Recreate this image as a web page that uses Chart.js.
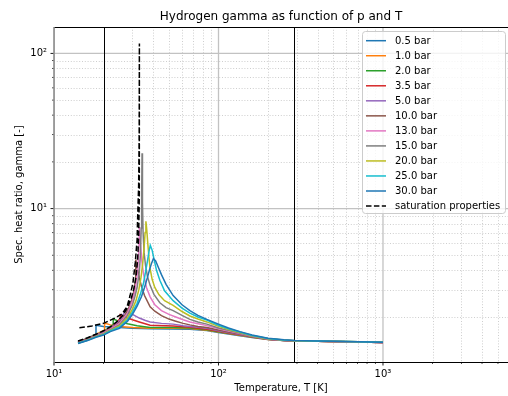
<!DOCTYPE html>
<html>
<head>
<meta charset="utf-8">
<script src="https://cdn.jsdelivr.net/npm/chart.js@4"></script>
<style>
  html, body { margin: 0; padding: 0; background: #ffffff; }
  canvas { display: block; }
</style>
</head>
<body>
<canvas id="chart" width="508" height="396"></canvas>
<script>
// ---- Series: temperature [K] and specific heat ratio per pressure ----
const seriesLabels = ['0.5 bar', '1.0 bar', '2.0 bar', '3.5 bar', '5.0 bar', '10.0 bar',
                      '13.0 bar', '15.0 bar', '20.0 bar', '25.0 bar', '30.0 bar'];
const seriesColors = ['#1f77b4', '#ff7f0e', '#2ca02c', '#d62728', '#9467bd', '#8c564b',
                      '#e377c2', '#7f7f7f', '#bcbd22', '#17becf', '#1f77b4'];

const T_0p5 = [14, 15, 16, 17, 18, 18, 20, 25, 30, 38.4, 53, 67, 85, 100, 115, 135, 160, 200, 250, 290, 400, 600, 1000];
const g_0p5 = [1.395, 1.425, 1.46, 1.505, 1.55, 1.77, 1.74, 1.71, 1.695, 1.68, 1.675, 1.67, 1.635, 1.59, 1.555, 1.515, 1.475, 1.432, 1.409, 1.402, 1.396, 1.388, 1.372];

const T_1p0 = [14, 15, 16, 17, 18, 19, 20.3, 20.3, 22, 25, 30, 38.4, 53, 67, 85, 100, 115, 135, 160, 200, 250, 290, 400, 600, 1000];
const g_1p0 = [1.39, 1.42, 1.455, 1.50, 1.545, 1.59, 1.645, 1.83, 1.78, 1.74, 1.71, 1.69, 1.69, 1.685, 1.645, 1.60, 1.565, 1.525, 1.48, 1.434, 1.41, 1.403, 1.396, 1.388, 1.372];

const T_2p0 = [14, 16, 18, 20, 21.5, 22.9, 22.9, 25, 28, 32, 38.4, 53, 67, 85, 100, 115, 135, 160, 200, 250, 290, 400, 600, 1000];
const g_2p0 = [1.385, 1.45, 1.535, 1.615, 1.70, 1.79, 1.94, 1.87, 1.81, 1.76, 1.71, 1.71, 1.70, 1.655, 1.61, 1.57, 1.535, 1.485, 1.436, 1.411, 1.403, 1.397, 1.388, 1.372];

const T_3p5 = [14, 16, 18, 20, 22, 23.8, 25.3, 25.3, 27, 30, 33, 38.4, 53, 67, 85, 100, 115, 135, 160, 200, 250, 290, 400, 600, 1000];
const g_3p5 = [1.38, 1.445, 1.53, 1.61, 1.70, 1.82, 1.97, 2.07, 2.0, 1.92, 1.86, 1.77, 1.75, 1.72, 1.67, 1.62, 1.58, 1.54, 1.49, 1.438, 1.412, 1.404, 1.397, 1.388, 1.372];

const T_5p0 = [14, 16, 18, 20, 22, 24, 25.6, 26.9, 26.9, 28, 30, 33, 36, 38.4, 45, 53, 61, 75, 85, 100, 115, 135, 160, 200, 250, 290, 400, 600, 1000];
const g_5p0 = [1.375, 1.44, 1.525, 1.60, 1.69, 1.81, 1.95, 2.15, 2.22, 2.17, 2.08, 1.97, 1.90, 1.86, 1.82, 1.80, 1.76, 1.72, 1.69, 1.63, 1.59, 1.545, 1.495, 1.44, 1.413, 1.404, 1.397, 1.388, 1.372];

const T_10 = [14, 16, 18, 20, 22, 24, 26, 28, 29.5, 30.6, 31.4, 31.4, 32, 33, 34, 35.5, 38.4, 41, 45, 50, 55, 61, 67, 75, 85, 100, 115, 135, 160, 200, 250, 290, 400, 600, 1000];
const g_10 = [1.37, 1.435, 1.515, 1.59, 1.68, 1.78, 1.93, 2.2, 2.5, 2.95, 3.55, 4.7, 4.2, 3.6, 3.15, 2.75, 2.33, 2.18, 2.04, 1.94, 1.88, 1.82, 1.78, 1.74, 1.71, 1.65, 1.60, 1.555, 1.50, 1.442, 1.415, 1.405, 1.397, 1.388, 1.372];

const T_13 = [14, 16, 18, 20, 22, 25, 28, 30, 31, 31.8, 32.4, 32.8, 33.1, 33.5, 34.2, 35, 36.5, 38.4, 41, 45, 50, 55, 61, 67, 75, 85, 100, 115, 135, 160, 200, 250, 290, 400, 600, 1000];
const g_13 = [1.365, 1.43, 1.51, 1.58, 1.67, 1.82, 2.12, 2.55, 2.95, 3.5, 4.3, 5.5, 7.6, 6.0, 4.6, 3.8, 3.1, 2.7, 2.4, 2.2, 2.08, 2.0, 1.92, 1.86, 1.81, 1.76, 1.68, 1.625, 1.565, 1.505, 1.445, 1.417, 1.406, 1.398, 1.388, 1.372];

const T_15 = [14, 16, 18, 20, 22, 25, 28, 30, 31, 32, 33, 33.5, 33.9, 34.1, 34.3, 34.5, 34.8, 35.3, 36, 37, 38.4, 40.5, 44, 48, 53, 60, 67, 75, 85, 100, 115, 135, 160, 200, 250, 290, 400, 600, 1000];
const g_15 = [1.362, 1.425, 1.505, 1.56, 1.65, 1.78, 2.05, 2.4, 2.7, 3.1, 3.9, 5.0, 7.5, 12, 22.7, 11, 7, 5.2, 4.3, 3.65, 3.2, 2.8, 2.47, 2.3, 2.2, 2.05, 1.93, 1.86, 1.80, 1.70, 1.64, 1.575, 1.51, 1.447, 1.418, 1.407, 1.398, 1.389, 1.373];

const T_20 = [14, 16, 18, 20, 22, 25, 28, 30, 31.5, 32.8, 33.8, 34.6, 35.3, 35.8, 36.2, 36.6, 37.2, 37.8, 38.4, 39.5, 41, 43.5, 47, 53, 60, 67, 75, 85, 100, 115, 135, 160, 200, 250, 290, 400, 600, 1000];
const g_20 = [1.358, 1.42, 1.495, 1.55, 1.64, 1.75, 1.98, 2.25, 2.55, 3.0, 3.6, 4.4, 5.6, 7.0, 8.28, 7.4, 5.9, 4.8, 4.1, 3.5, 3.1, 2.78, 2.55, 2.38, 2.17, 2.03, 1.94, 1.86, 1.74, 1.66, 1.59, 1.515, 1.45, 1.42, 1.408, 1.398, 1.389, 1.373];

const T_25 = [14, 16, 18, 20, 22, 25, 28, 30, 32, 33.5, 35, 36, 37, 37.8, 38.5, 39.5, 40.5, 42, 44, 47, 53, 60, 67, 75, 85, 100, 115, 135, 160, 200, 250, 290, 400, 600, 1000];
const g_25 = [1.355, 1.415, 1.49, 1.54, 1.625, 1.72, 1.92, 2.15, 2.45, 2.8, 3.3, 3.9, 4.6, 5.3, 5.79, 5.4, 4.75, 4.0, 3.45, 2.95, 2.55, 2.28, 2.12, 2.0, 1.91, 1.77, 1.68, 1.60, 1.52, 1.455, 1.422, 1.409, 1.399, 1.389, 1.373];

const T_30 = [14, 16, 18, 20, 22, 25, 28, 30, 32, 34, 35.5, 37, 38, 39.2, 40.2, 41.5, 43, 45, 48, 53, 60, 67, 75, 85, 100, 115, 135, 160, 200, 250, 290, 400, 600, 1000];
const g_30 = [1.35, 1.41, 1.48, 1.53, 1.61, 1.69, 1.88, 2.08, 2.35, 2.7, 3.1, 3.6, 4.0, 4.45, 4.76, 4.6, 4.2, 3.75, 3.25, 2.75, 2.4, 2.2, 2.05, 1.93, 1.80, 1.70, 1.61, 1.53, 1.46, 1.425, 1.41, 1.399, 1.389, 1.373];

// Saturation properties: liquid branch up to the critical point, then vapour branch back down
const T_sat = [14, 16, 18, 20, 22, 24, 26, 28, 29.5, 30.5, 31.5, 32.2, 32.7, 33.0, 33.05, 32.95, 32.7, 32.5, 32.2, 32.0, 31.2, 30.2, 29, 27.8, 26, 23.5, 20, 17, 14];
const g_sat = [1.40, 1.47, 1.55, 1.63, 1.73, 1.86, 2.03, 2.3, 2.65, 3.0, 3.6, 4.6, 6.5, 12, 116, 30, 14, 11.4, 8.3, 6.3, 4.5, 3.32, 2.75, 2.33, 2.1, 1.97, 1.82, 1.75, 1.70];

const seriesT = [T_0p5, T_1p0, T_2p0, T_3p5, T_5p0, T_10, T_13, T_15, T_20, T_25, T_30];
const seriesG = [g_0p5, g_1p0, g_2p0, g_3p5, g_5p0, g_10, g_13, g_15, g_20, g_25, g_30];

// Reference temperatures marked with vertical lines [K]
const markerT = [20, 288];

// Axis ranges and tick positions
const xRange = [10, 5754];
const yRange = [1.026, 148];
const xTicks = [10, 20, 30, 40, 50, 60, 70, 80, 90, 100, 200, 300, 400, 500, 600, 700, 800, 900,
                1000, 2000, 3000, 4000, 5000];
const yTicks = [2, 3, 4, 5, 6, 7, 8, 9, 10, 20, 30, 40, 50, 60, 70, 80, 90, 100];
const supDigits = {'1': '\u00b9', '2': '\u00b2', '3': '\u00b3'};

const FONT = 'DejaVu Sans';

function isDecade(v) {
  const e = Math.log10(v);
  return Math.abs(e - Math.round(e)) < 1e-9;
}
function decadeLabel(v) {
  return isDecade(v) ? '10' + supDigits[String(Math.round(Math.log10(v)))] : '';
}

const datasets = seriesLabels.map((label, i) => ({
  label,
  data: seriesT[i].map((t, j) => ({x: t, y: seriesG[i][j]})),
  borderColor: seriesColors[i],
  backgroundColor: seriesColors[i],
  borderWidth: 1.5,
  pointRadius: 0,
  fill: false,
  order: 100 - i
}));
datasets.push({
  label: 'saturation properties',
  data: T_sat.map((t, j) => ({x: t, y: g_sat[j]})),
  borderColor: '#000000',
  backgroundColor: '#000000',
  borderWidth: 1.5,
  borderDash: [5.5, 2.4],
  pointRadius: 0,
  fill: false,
  order: 0
});

// Grid, reference lines, frame, ticks, title and legend
const framePlugin = {
  id: 'framePlugin',
  beforeDatasetsDraw(chart) {
    const {ctx, chartArea: a, scales: {x, y}} = chart;
    ctx.save();
    ctx.beginPath();
    ctx.rect(a.left, a.top, a.right - a.left, a.bottom - a.top);
    ctx.clip();
    // minor grid (dotted)
    ctx.strokeStyle = '#c8c8c8';
    ctx.lineWidth = 0.9;
    ctx.setLineDash([1, 1.8]);
    for (const v of xTicks) {
      if (isDecade(v)) continue;
      const px = Math.round(x.getPixelForValue(v)) + 0.5;
      ctx.beginPath(); ctx.moveTo(px, a.top); ctx.lineTo(px, a.bottom); ctx.stroke();
    }
    for (const v of yTicks) {
      if (isDecade(v)) continue;
      const py = Math.round(y.getPixelForValue(v)) + 0.5;
      ctx.beginPath(); ctx.moveTo(a.left, py); ctx.lineTo(a.right, py); ctx.stroke();
    }
    // major grid (solid)
    ctx.setLineDash([]);
    ctx.strokeStyle = '#c2c2c2';
    ctx.lineWidth = 1.3;
    for (const v of xTicks) {
      if (!isDecade(v)) continue;
      const px = x.getPixelForValue(v);
      ctx.beginPath(); ctx.moveTo(px, a.top); ctx.lineTo(px, a.bottom); ctx.stroke();
    }
    for (const v of yTicks) {
      if (!isDecade(v)) continue;
      const py = y.getPixelForValue(v);
      ctx.beginPath(); ctx.moveTo(a.left, py); ctx.lineTo(a.right, py); ctx.stroke();
    }
    // reference temperatures
    ctx.strokeStyle = '#000000';
    ctx.lineWidth = 1;
    for (const t of markerT) {
      const px = Math.round(x.getPixelForValue(t)) + 0.5;
      ctx.beginPath(); ctx.moveTo(px, a.top); ctx.lineTo(px, a.bottom); ctx.stroke();
    }
    ctx.restore();
  },
  afterDatasetsDraw(chart) {
    const {ctx, chartArea: a, scales: {x, y}} = chart;
    ctx.save();
    // tick marks
    ctx.strokeStyle = '#000000';
    for (const v of xTicks) {
      const px = x.getPixelForValue(v);
      if (px < a.left - 0.5 || px > a.right + 0.5) continue;
      const major = isDecade(v);
      ctx.lineWidth = major ? 0.9 : 0.7;
      ctx.beginPath(); ctx.moveTo(px, a.bottom); ctx.lineTo(px, a.bottom + (major ? 3.5 : 2)); ctx.stroke();
    }
    for (const v of yTicks) {
      const py = y.getPixelForValue(v);
      const major = isDecade(v);
      ctx.lineWidth = major ? 0.9 : 0.7;
      ctx.beginPath(); ctx.moveTo(a.left, py); ctx.lineTo(a.left - (major ? 3.5 : 2), py); ctx.stroke();
    }
    // frame
    ctx.lineWidth = 1;
    ctx.strokeStyle = '#000000';
    ctx.beginPath(); ctx.moveTo(a.left, a.top + 0.5); ctx.lineTo(a.right, a.top + 0.5); ctx.stroke();
    ctx.beginPath(); ctx.moveTo(a.left, a.bottom + 0.5); ctx.lineTo(a.right, a.bottom + 0.5); ctx.stroke();
    ctx.strokeStyle = '#8c8c8c';
    ctx.lineWidth = 1.6;
    ctx.beginPath(); ctx.moveTo(a.left, a.top); ctx.lineTo(a.left, a.bottom + 1); ctx.stroke();

    // title, centred over the plotting area
    ctx.fillStyle = '#000000';
    ctx.font = '12px "' + FONT + '"';
    ctx.textAlign = 'center';
    ctx.textBaseline = 'middle';
    ctx.fillText('Hydrogen gamma as function of p and T', (a.left + a.right) / 2, 16.5);

    // legend
    const box = {left: 362.5, top: 31.5, width: 143, height: 182};
    ctx.fillStyle = 'rgba(255,255,255,0.8)';
    ctx.strokeStyle = '#cccccc';
    ctx.lineWidth = 1;
    ctx.beginPath();
    ctx.roundRect(box.left, box.top, box.width, box.height, 3);
    ctx.fill();
    ctx.stroke();
    ctx.font = '10px "' + FONT + '"';
    ctx.textAlign = 'left';
    ctx.textBaseline = 'middle';
    chart.data.datasets.forEach((ds, i) => {
      const yy = 40.7 + 15.03 * i;
      ctx.strokeStyle = ds.borderColor;
      ctx.lineWidth = 1.5;
      ctx.setLineDash(ds.borderDash || []);
      ctx.beginPath(); ctx.moveTo(366, yy); ctx.lineTo(386, yy); ctx.stroke();
      ctx.setLineDash([]);
      ctx.fillStyle = '#000000';
      ctx.fillText(ds.label, 395, yy + 0.5);
    });
    ctx.restore();
  }
};

new Chart(document.getElementById('chart'), {
  type: 'line',
  data: {datasets},
  options: {
    responsive: false,
    animation: false,
    devicePixelRatio: 1,
    layout: {padding: {top: 27, right: 0, bottom: 0, left: 0}},
    plugins: {
      legend: {display: false},
      title: {display: false},
      tooltip: {enabled: false}
    },
    elements: {line: {tension: 0}, point: {radius: 0}},
    scales: {
      x: {
        type: 'logarithmic',
        min: xRange[0],
        max: xRange[1],
        afterBuildTicks: (scale) => { scale.ticks = xTicks.map(v => ({value: v, major: isDecade(v)})); },
        afterFit: (scale) => { scale.height = 34; },
        grid: {display: false, drawTicks: false},
        border: {display: false},
        ticks: {
          autoSkip: false, maxRotation: 0, padding: 6, color: '#000000',
          font: {family: FONT, size: 10},
          callback: (v) => decadeLabel(v)
        },
        title: {
          display: true, text: 'Temperature, T [K]', color: '#000000',
          font: {family: FONT, size: 10}, padding: {top: 0, bottom: 2}
        }
      },
      y: {
        type: 'logarithmic',
        min: yRange[0],
        max: yRange[1],
        afterBuildTicks: (scale) => { scale.ticks = yTicks.map(v => ({value: v, major: isDecade(v)})); },
        afterFit: (scale) => { scale.width = 54; },
        grid: {display: false, drawTicks: false},
        border: {display: false},
        ticks: {
          autoSkip: false, padding: 7, color: '#000000',
          font: {family: FONT, size: 10},
          callback: (v) => decadeLabel(v)
        },
        title: {
          display: true, text: 'Spec. heat ratio, gamma [-]', color: '#000000',
          font: {family: FONT, size: 10}, padding: {top: 13.5, bottom: 0}
        }
      }
    }
  },
  plugins: [framePlugin]
});
</script>
</body>
</html>
